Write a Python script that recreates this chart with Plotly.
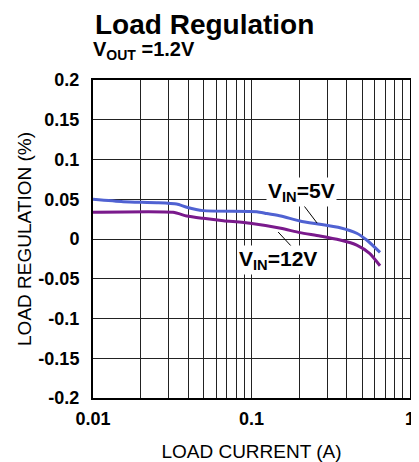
import plotly.graph_objects as go

# Data
x_5v = [0.01, 0.0155, 0.0252, 0.0337, 0.039, 0.0496, 0.108, 0.125, 0.153, 0.202, 0.27, 0.362, 0.461, 0.533, 0.647]
y_5v = [0.050, 0.047, 0.0457, 0.044, 0.040, 0.0357, 0.0344, 0.032, 0.029, 0.0227, 0.0185, 0.0142, 0.0072, -0.0013, -0.0168]
x_12v = [0.01, 0.032, 0.039, 0.0496, 0.0664, 0.098, 0.153, 0.202, 0.27, 0.362, 0.461, 0.556, 0.647]
y_12v = [0.0336, 0.0336, 0.029, 0.026, 0.023, 0.0198, 0.0135, 0.008, 0.0038, -0.0013, -0.0076, -0.018, -0.0336]
y_ticks = [0.2, 0.15, 0.1, 0.05, 0, -0.05, -0.1, -0.15, -0.2]
y_tick_labels = ["0.2", "0.15", "0.1", "0.05", "0", "-0.05", "-0.1", "-0.15", "-0.2"]
x_ticks = [0.01, 0.1, 1]
x_tick_labels = ["0.01", "0.1", "1"]

FONT = "Liberation Sans, Arial, sans-serif"
BLUE = "#5062d2"
PURPLE = "#7a1a8c"

fig = go.Figure()
fig.add_trace(go.Scatter(x=x_5v, y=y_5v, mode="lines", line=dict(color=BLUE, width=3, shape="spline", smoothing=0.6), showlegend=False))
fig.add_trace(go.Scatter(x=x_12v, y=y_12v, mode="lines", line=dict(color=PURPLE, width=3, shape="spline", smoothing=0.6), showlegend=False))

minor_vals = []
for dec in [0.01, 0.1]:
    for k in range(2, 10):
        minor_vals.append(dec * k)

fig.update_xaxes(
    type="log", range=[-2, 0], automargin=False,
    tickvals=x_ticks, ticktext=x_tick_labels,
    tickfont=dict(family=FONT, size=18, color="black", weight="bold"),
    showgrid=True, gridcolor="#222", gridwidth=1,
    minor=dict(tickvals=minor_vals, showgrid=True, gridcolor="#222", gridwidth=1, ticks=""),
    showline=True, linecolor="black", linewidth=2, mirror=True,
    ticks="", ticklabelstandoff=3,
    title=dict(text="LOAD CURRENT (A)", font=dict(family=FONT, size=19, color="black"), standoff=17),
    zeroline=False,
)
fig.update_yaxes(
    range=[-0.2, 0.2], automargin=False,
    tickvals=y_ticks, ticktext=y_tick_labels,
    tickfont=dict(family=FONT, size=18, color="black", weight="bold"),
    showgrid=True, gridcolor="#222", gridwidth=1,
    showline=True, linecolor="black", linewidth=2, mirror=True,
    ticks="", ticklabelstandoff=8,
    title=dict(text="LOAD REGULATION (%)", font=dict(family=FONT, size=19, color="black"), standoff=2),
    zeroline=False,
)

annotations = [
    dict(text="<b>Load Regulation</b>", xref="paper", yref="paper", x=0, y=1.175,
         xanchor="left", yanchor="middle", showarrow=False,
         font=dict(family=FONT, size=28, color="black")),
    dict(text="<b>V<sub>OUT</sub> =1.2V</b>", xref="paper", yref="paper", x=-0.006, y=1.094,
         xanchor="left", yanchor="middle", showarrow=False,
         font=dict(family=FONT, size=20, color="black")),
    dict(text="<b>V<sub>IN</sub>=5V</b>", xref="paper", yref="paper", x=0.659, y=0.648,
         xanchor="center", yanchor="middle", showarrow=False, bgcolor="white",
         font=dict(family=FONT, size=21, color="black")),
    dict(text="<b>V<sub>IN</sub>=12V</b>", xref="paper", yref="paper", x=0.583, y=0.434,
         xanchor="center", yanchor="middle", showarrow=False, bgcolor="white",
         font=dict(family=FONT, size=21, color="black")),
]
shapes = [
    dict(type="line", xref="paper", yref="paper", x0=0.659, y0=0.613, x1=0.707, y1=0.550,
         line=dict(color="black", width=1)),
    dict(type="line", xref="paper", yref="paper", x0=0.584, y0=0.522, x1=0.637, y1=0.465,
         line=dict(color="black", width=1)),
]

# The page body has an 8px margin, so the figure is 8px smaller in each direction
fig.update_layout(
    width=411, height=454,
    margin=dict(l=85, r=9, t=72, b=64),
    paper_bgcolor="white", plot_bgcolor="white",
    annotations=annotations, shapes=shapes,
    font=dict(family=FONT, color="black"),
)

fig.write_html("out.html")
